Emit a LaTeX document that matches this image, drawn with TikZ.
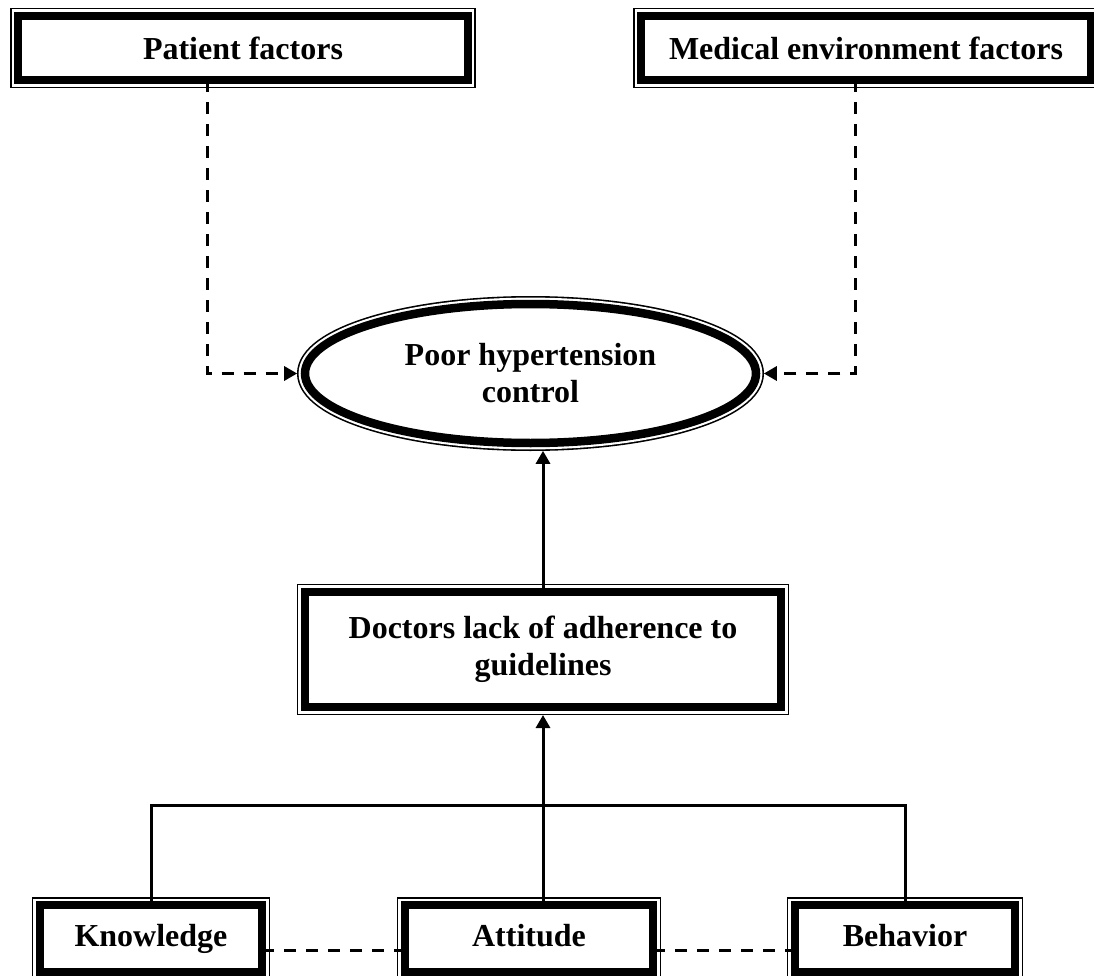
\documentclass[tikz,border=0pt]{standalone}
\usepackage{fontspec}
\setmainfont{Liberation Serif}
\usetikzlibrary{arrows.meta,shapes.geometric}
\tikzset{
  dframe/.style={draw, fill=white, line width=8.5pt, inner sep=0pt, outer sep=0pt, align=center,
    font=\fontsize{32}{37}\selectfont\bfseries,
    preaction={draw=black, line width=16pt},
    preaction={draw=white, line width=12.8pt}},
  dbox/.style={dframe, rectangle},
  dell/.style={dframe, ellipse},
  lowbox/.style={dbox, text height=22pt, text depth=7pt},
  dashline/.style={line width=3pt, dash pattern=on 12pt off 10pt},
  solidline/.style={line width=3pt},
  tip/.style={-{Triangle[length=13pt,width=14pt]}, shorten >=7.8pt},
}
\begin{document}
\begin{tikzpicture}[x=1pt,y=-1pt]
\useasboundingbox (0,0) rectangle (1094,976);
\node[dbox, minimum width=450pt, minimum height=64.4pt] (pat) at (243,48) {Patient factors};
\node[dbox, minimum width=450pt, minimum height=64.4pt] (med) at (866,48) {Medical environment factors};
\node[dell, minimum width=451pt, minimum height=139pt] (ell) at (530.5,373.5) {Poor hypertension\\control};
\node[dbox, minimum width=476.4pt, minimum height=115.4pt] (doc) at (543,649.5) {Doctors lack of adherence to\\guidelines};
\node[lowbox, minimum width=222.4pt, minimum height=67pt] (kn) at (151,938.5) {Knowledge};
\node[lowbox, minimum width=248.4pt, minimum height=67pt] (att) at (529,938.5) {Attitude};
\node[lowbox, minimum width=220.4pt, minimum height=67pt] (beh) at (905,938.5) {Behavior};
\coordinate (bar) at (543,805);
% dashed inputs to the ellipse
\draw[dashline, tip] ([xshift=-36pt]pat.south) |- (ell.west);
\draw[dashline, tip] ([xshift=-11pt]med.south) |- (ell.east);
% doctors to ellipse
\draw[solidline, tip] (doc.north) -- (doc.north |- ell.south);
% attitude to doctors
\draw[solidline, tip] (bar |- att.north) -- (doc.south);
% tree bar
\draw[solidline] (kn.north) -- (kn.north |- bar) -- (beh.north |- bar) -- (beh.north);
% dashed links between bottom boxes
\draw[dashline] ([yshift=-11.5pt]kn.east) -- ([yshift=-11.5pt]att.west);
\draw[dashline] ([yshift=-11.5pt]att.east) -- ([yshift=-11.5pt]beh.west);
\end{tikzpicture}
\end{document}
